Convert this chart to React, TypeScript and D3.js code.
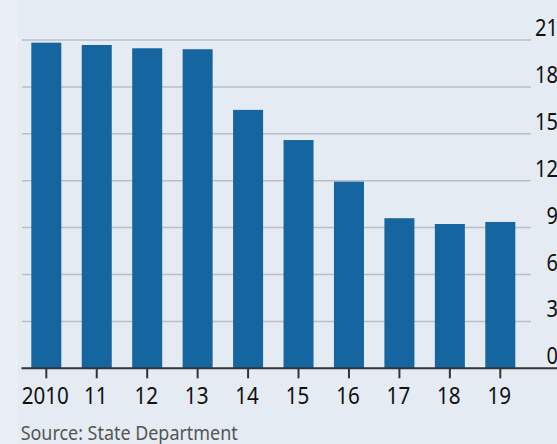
import React from "react";
import * as d3 from "d3";

const years = ["2010", "11", "12", "13", "14", "15", "16", "17", "18", "19"];
const values = [20.83, 20.68, 20.47, 20.41, 16.53, 14.6, 11.94, 9.6, 9.23, 9.36];
const yTicks = [0, 3, 6, 9, 12, 15, 18, 21];
const source = "Source: State Department";

const W = 557;
const H = 444;
const FONT = "'Noto Sans', 'Open Sans', sans-serif";

export default function App() {
  const x = d3.scalePoint<string>().domain(years).range([46.3, 500.3]);
  const y = d3.scaleLinear().domain([0, 21]).range([368.3, 40]);
  const barW = 30;
  return (
    <svg width={W} height={H} style={{ position: "absolute", left: 0, top: 0 }}>
      <rect x={0} y={0} width={W} height={H} fill="#e4ebf2" />
      <rect x={0} y={0} width={18} height={H} fill="#e9eff5" />
      {yTicks.filter((t) => t > 0).map((t) => (
        <line key={t} x1={22} x2={531} y1={y(t)} y2={y(t)} stroke="#b8bfc6" strokeWidth={1.5} />
      ))}
      {years.map((yr, i) => (
        <rect key={yr} x={(x(yr) as number) - barW / 2} y={y(values[i])} width={barW} height={y(0) - y(values[i])} fill="#1565a0" />
      ))}
      <line x1={21.5} x2={W} y1={y(0)} y2={y(0)} stroke="#333" strokeWidth={2} />
      {years.map((yr) => (
        <line key={yr} x1={x(yr) as number} x2={x(yr) as number} y1={y(0)} y2={y(0) + 10} stroke="#333" strokeWidth={2} />
      ))}
      {yTicks.map((t) => (
        <text key={t} transform={`translate(558,${y(t) - 4}) scale(0.84,1)`} textAnchor="end" fontFamily={FONT} fontSize={24} fill="#111">{t}</text>
      ))}
      {years.map((yr) => (
        <text key={yr} transform={`translate(${x(yr) as number - 1},404.3) scale(0.86,1)`} textAnchor="middle" fontFamily={FONT} fontSize={24} fill="#111">{yr}</text>
      ))}
      <text x={20.7} y={440} fontFamily={FONT} fontSize={19.5} fill="#555" textLength={217} lengthAdjust="spacingAndGlyphs">{source}</text>
    </svg>
  );
}
